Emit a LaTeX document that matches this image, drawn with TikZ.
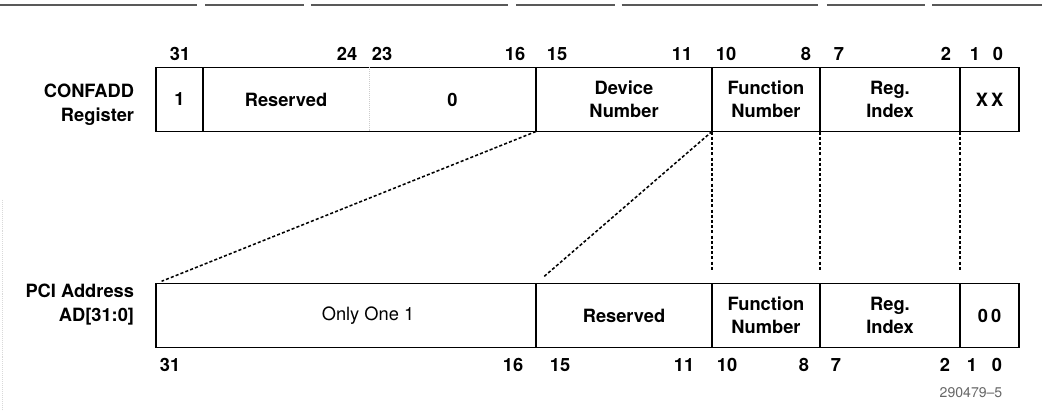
\documentclass[tikz,border=0pt]{standalone}
\usepackage{fontspec}
\setmainfont{TeX Gyre Heros}
\usetikzlibrary{positioning}

\tikzset{
    cell/.style={draw, line width=1.2pt, inner sep=0pt, outer sep=0pt,
        minimum height=1.6cm, align=center,
        font=\fontsize{13}{16}\selectfont\bfseries},
    opencell/.style={cell, draw=none},
    lightcell/.style={cell, font=\fontsize{13}{16}\selectfont},
    bits/.style={font=\fontsize{13}{15}\selectfont\bfseries},
    regname/.style={anchor=east, align=right,
        font=\fontsize{13}{17}\selectfont\bfseries},
    mapline/.style={line width=1.1pt, dash pattern=on 2.2pt off 1.5pt,
        shorten >=0.15cm}
}

% one field of a register: [style]{name}{left}{right}{middle y}{text}
\newcommand{\field}[6][cell]{%
    \node[#1, minimum width={(#4-#3)*0.025cm}] (#2) at ({(#3+#4)/2},#5) {#6};}

\begin{document}
\begin{tikzpicture}[x=0.025cm, y=-0.025cm]
    \useasboundingbox (0,0) rectangle (1042,411);

    % frame of the page
    \draw[black!65, line width=1pt, dash pattern=on 140pt off 6pt on 70pt off 5pt]
        (0,5) -- (1042,5);
    \draw[gray!30, densely dotted] (2,200) -- (2,411);

    % CONFADD register
    \field{cfgEn}{156}{203}{99.5}{1}
    \field[opencell]{cfgRes}{203}{369}{99.5}{Reserved}
    \field[opencell]{cfgZero}{369}{536}{99.5}{0}
    \field{cfgDev}{536}{712}{99.5}{Device\\Number}
    \field{cfgFun}{712}{820}{99.5}{Function\\Number}
    \field{cfgReg}{820}{960}{99.5}{Reg.\\Index}
    \field{cfgType}{960}{1019}{99.5}{X\,X}
    \draw[line width=1.2pt] (cfgRes.north west) -- (cfgZero.north east)
                            (cfgRes.south west) -- (cfgZero.south east);
    \draw[gray!40, densely dotted] (cfgRes.north east) -- (cfgRes.south east);

    % PCI address
    \field[lightcell]{pciSel}{156}{536}{315.5}{\hspace*{1.1cm}Only One 1}
    \field{pciRes}{536}{712}{315.5}{Reserved}
    \field{pciFun}{712}{820}{315.5}{Function\\Number}
    \field{pciReg}{820}{960}{315.5}{Reg.\\Index}
    \field{pciZero}{960}{1019}{315.5}{0\,0}

    \node[regname] (cfgName) at (139,105) {CONFADD\\Register};
    \node[regname] (pciName) at (139,305) {PCI Address\\AD[31:0]};

    % bit numbers
    \foreach \x/\b in {180/31, 347/24, 382/23, 515/16, 557/15, 682/11,
                       726/10, 806/8, 839/7, 946/2, 975/1, 998/0}
        \node[bits] (top\b) at (\x,54) {\b};
    \foreach \x/\b in {170/31, 513/16, 560/15, 684/11, 727/10,
                       804/8, 836/7, 945/2, 972/1, 997/0}
        \node[bits] (bot\b) at (\x,365) {\b};

    % mapping
    \draw[mapline] (cfgDev.south west) -- (pciSel.north west);
    \draw[mapline, shorten >=0.25cm] (cfgFun.south west) -- (pciRes.north west);
    \foreach \a/\b in {cfgFun/pciFun, cfgReg/pciReg, cfgType/pciZero}
        \draw[mapline, shorten >=0.3cm] (\a.south west) -- (\b.north west);

    \node[font=\fontsize{10}{12}\selectfont, text=gray!80!black] (figId)
        at (971,393) {290479--5};
\end{tikzpicture}
\end{document}
